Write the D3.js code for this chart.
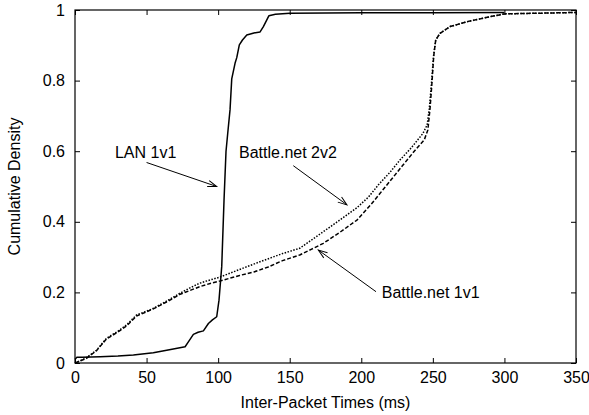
<!DOCTYPE html>
<html><head><meta charset="utf-8">
<script src="https://cdn.jsdelivr.net/npm/d3@7"></script>
<style>
html,body{margin:0;padding:0;background:#fff;}
text{font-family:"Liberation Sans",Arial,Helvetica,sans-serif;fill:#000;}
</style></head>
<body><svg id="c" width="589" height="415"></svg>
<script>
// ---- data ----
const xTicks = [0, 50, 100, 150, 200, 250, 300, 350];
const yTicks = [0, 0.2, 0.4, 0.6, 0.8, 1];
const yTickLabels = ["0", "0.2", "0.4", "0.6", "0.8", "1"];

const lanX = [0, 1.2, 5, 17.5, 30, 40.8, 54.7, 65, 76.9, 79.2, 82.7, 86, 89.7, 93.2, 96, 99, 100.6, 102.5, 104.1, 105.5, 106.7, 108.3, 109.5, 111.8, 113, 114.8, 117, 120, 125, 129.3, 131.6, 134, 135.5, 140, 150, 200, 250, 300];
const lanY = [0.01, 0.016, 0.016, 0.018, 0.02, 0.023, 0.029, 0.037, 0.046, 0.06, 0.081, 0.087, 0.091, 0.112, 0.122, 0.131, 0.178, 0.273, 0.46, 0.6, 0.651, 0.717, 0.805, 0.849, 0.865, 0.901, 0.915, 0.929, 0.935, 0.938, 0.953, 0.972, 0.984, 0.988, 0.991, 0.992, 0.992, 0.993];

const bn2X = [0, 3, 8, 15, 22, 30, 36, 43, 50, 55, 65, 73, 80, 87, 95, 101, 115, 130, 145, 157, 173.5, 185, 197, 205, 212, 220, 227, 235, 243, 246, 247.5, 249, 250.5, 252, 255, 262, 274, 290, 300, 350];
const bn2Y = [0, 0.005, 0.015, 0.036, 0.07, 0.09, 0.108, 0.136, 0.147, 0.155, 0.178, 0.197, 0.212, 0.226, 0.236, 0.243, 0.265, 0.288, 0.31, 0.325, 0.372, 0.405, 0.44, 0.47, 0.505, 0.54, 0.575, 0.61, 0.65, 0.674, 0.72, 0.79, 0.87, 0.915, 0.934, 0.953, 0.967, 0.981, 0.989, 0.993];

const bn1X = [0, 3, 8, 15, 22, 30, 36, 43, 50, 55, 65, 73, 80, 87, 95, 101, 115, 125, 135, 145, 157, 165, 173.5, 185, 197, 207, 213, 220, 229, 237, 244, 246.5, 248, 249.3, 250.6, 252, 255, 262, 274, 290, 300, 350];
const bn1Y = [0, 0.005, 0.013, 0.035, 0.068, 0.088, 0.105, 0.133, 0.145, 0.154, 0.175, 0.194, 0.205, 0.216, 0.226, 0.232, 0.248, 0.258, 0.272, 0.29, 0.306, 0.322, 0.339, 0.37, 0.405, 0.45, 0.48, 0.515, 0.56, 0.6, 0.632, 0.66, 0.72, 0.79, 0.87, 0.915, 0.934, 0.953, 0.967, 0.981, 0.989, 0.993];

const seriesNames = ["LAN 1v1", "Battle.net 2v2", "Battle.net 1v1"];
// annotation: label anchor (data units) and arrow from -> to (data units)
const labelX = [27.9, 114.6, 214.3];
const labelY = [0.581, 0.581, 0.184];
const arrowFromX = [50, 152.5, 210.3];
const arrowFromY = [0.568, 0.559, 0.202];
const arrowToX = [99, 190, 170];
const arrowToY = [0.5, 0.448, 0.32];

const xLabel = "Inter-Packet Times (ms)";
const yLabel = "Cumulative Density";

// ---- layout ----
const svg = d3.select("#c");
const L = 75, R = 576, T = 10, B = 363;
const x = d3.scaleLinear().domain([0, 350]).range([L, R]);
const y = d3.scaleLinear().domain([0, 1]).range([B, T]);
const fs = 16;

function styleAxis(g) {
  g.select(".domain").remove();
  g.selectAll("line").attr("stroke", "#000").attr("stroke-width", 1);
  g.selectAll("text").attr("font-size", fs).attr("font-family", '"Liberation Sans",Arial,sans-serif').attr("fill", "#000");
}
svg.append("g").attr("transform", `translate(0,${B})`)
  .call(d3.axisBottom(x).tickValues(xTicks).tickSizeInner(-5).tickSizeOuter(0).tickPadding(9).tickFormat(d3.format("d")))
  .call(styleAxis);
svg.append("g").attr("transform", `translate(0,${T})`)
  .call(d3.axisTop(x).tickValues(xTicks).tickSizeInner(-5).tickSizeOuter(0).tickFormat(""))
  .call(styleAxis);
svg.append("g").attr("transform", `translate(${L},0)`)
  .call(d3.axisLeft(y).tickValues(yTicks).tickSizeInner(-5).tickSizeOuter(0).tickPadding(10).tickFormat((d, i) => yTickLabels[i]))
  .call(styleAxis);
svg.append("g").attr("transform", `translate(${R},0)`)
  .call(d3.axisRight(y).tickValues(yTicks).tickSizeInner(-5).tickSizeOuter(0).tickFormat(""))
  .call(styleAxis);

svg.append("rect").attr("x", L).attr("y", T).attr("width", R - L).attr("height", B - T)
  .attr("fill", "none").attr("stroke", "#000").attr("stroke-width", 1.2);

// ---- lines ----
const line = d3.line().x(d => x(d[0])).y(d => y(d[1]));
const series = [
  {xs: lanX, ys: lanY, dash: null},
  {xs: bn2X, ys: bn2Y, dash: "1.5,1.5"},
  {xs: bn1X, ys: bn1Y, dash: "4,2"}
];
series.forEach(s => {
  const pts = s.xs.map((v, i) => [v, s.ys[i]]);
  svg.append("path").datum(pts).attr("d", line)
    .attr("fill", "none").attr("stroke", "#000").attr("stroke-width", 1.5)
    .attr("stroke-linejoin", "round")
    .attr("stroke-dasharray", s.dash);
});

// ---- arrows ----
svg.append("defs").append("marker").attr("id", "ah")
  .attr("markerUnits", "userSpaceOnUse").attr("markerWidth", 14).attr("markerHeight", 14)
  .attr("viewBox", "-12 -6 14 12").attr("refX", 0).attr("refY", 0).attr("orient", "auto")
  .append("path").attr("d", "M-9,-3.2L0,0L-9,3.2").attr("fill", "none").attr("stroke", "#000").attr("stroke-width", 1);

seriesNames.forEach((n, i) => {
  svg.append("line")
    .attr("x1", x(arrowFromX[i])).attr("y1", y(arrowFromY[i]))
    .attr("x2", x(arrowToX[i])).attr("y2", y(arrowToY[i]))
    .attr("stroke", "#000").attr("stroke-width", 1).attr("marker-end", "url(#ah)");
  svg.append("text").attr("x", x(labelX[i])).attr("y", y(labelY[i]))
    .attr("font-size", fs).text(n);
});

// ---- axis titles ----
svg.append("text").attr("x", (L + R) / 2).attr("y", 408).attr("text-anchor", "middle")
  .attr("font-size", fs).text(xLabel);
svg.append("text").attr("transform", `translate(20,${(T + B) / 2}) rotate(-90)`)
  .attr("text-anchor", "middle").attr("font-size", fs).text(yLabel);
</script></body></html>
